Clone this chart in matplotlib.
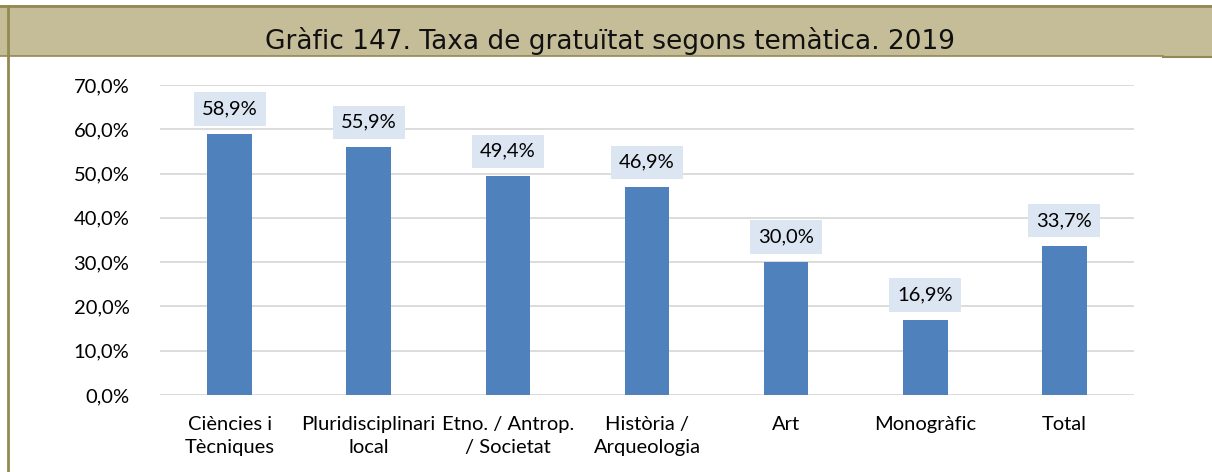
import matplotlib
matplotlib.use('Agg')
import matplotlib.pyplot as plt
import matplotlib.patches as mpatches
from matplotlib.lines import Line2D
from matplotlib.ticker import FuncFormatter

categories = ["Ciències i\nTècniques", "Pluridisciplinari\nlocal", "Etno. / Antrop.\n/ Societat",
              "Història /\nArqueologia", "Art", "Monogràfic", "Total"]
values = [58.9, 55.9, 49.4, 46.9, 30.0, 16.9, 33.7]
yticks = [0, 10, 20, 30, 40, 50, 60, 70]
title = "Gràfic 147. Taxa de gratuïtat segons temàtica. 2019"

W, H = 1212, 472
fig = plt.figure(figsize=(W / 100, H / 100), dpi=100)
fig.patch.set_facecolor("white")

body_font = ["Lato", "DejaVu Sans"]

# cabecera
fig.patches.append(mpatches.Rectangle((0, 1 - 56 / H), 1, 51 / H, transform=fig.transFigure,
                                      facecolor="#c4bd97", edgecolor="none", zorder=0))
edge = "#938953"
fig.lines.append(Line2D([0, 1], [1 - 6 / H, 1 - 6 / H], transform=fig.transFigure, color=edge, lw=2))
fig.lines.append(Line2D([0, 1163 / W], [1 - 55.5 / H, 1 - 55.5 / H], transform=fig.transFigure, color=edge, lw=1.2))
fig.lines.append(Line2D([1163 / W, 1], [1 - 56.5 / H, 1 - 56.5 / H], transform=fig.transFigure, color=edge, lw=1.5))
fig.lines.append(Line2D([8 / W, 8 / W], [0, 1 - 6 / H], transform=fig.transFigure, color=edge, lw=2))
fig.text(610 / W, 1 - 49 / H, title, ha='center', va='baseline', fontsize=19,
         family="DejaVu Sans", color="#111111")

ax = fig.add_axes([160 / W, 1 - 395 / H, 974 / W, 310 / H])
x = range(len(values))
ax.bar(x, values, width=0.32, color="#4f81bd", zorder=3)
ax.set_xlim(-0.5, len(values) - 0.5)
ax.set_ylim(0, 70)
ax.set_yticks(yticks)
ax.yaxis.set_major_formatter(FuncFormatter(lambda v, p: f"{v:.1f}%".replace(".", ",")))
ax.set_xticks(list(x))
ax.set_xticklabels(categories, linespacing=1.45)
ax.grid(axis='y', color="#d9d9d9", lw=1.3, zorder=0)
for s in ax.spines.values():
    s.set_visible(False)
ax.tick_params(length=0, labelsize=14.5)
ax.tick_params(axis='y', pad=22)
ax.tick_params(axis='x', pad=15)
for lab in ax.get_xticklabels() + ax.get_yticklabels():
    lab.set_family(body_font)

for xi, v in zip(x, values):
    ax.annotate(f"{v:.1f}%".replace(".", ","), (xi, v), xytext=(0, 12), textcoords='offset points',
                ha='center', va='bottom', fontsize=14.5, family=body_font, zorder=4,
                bbox=dict(boxstyle="square,pad=0.4", facecolor="#dce6f2", edgecolor="none"))

fig.savefig("out.png", dpi=100)
